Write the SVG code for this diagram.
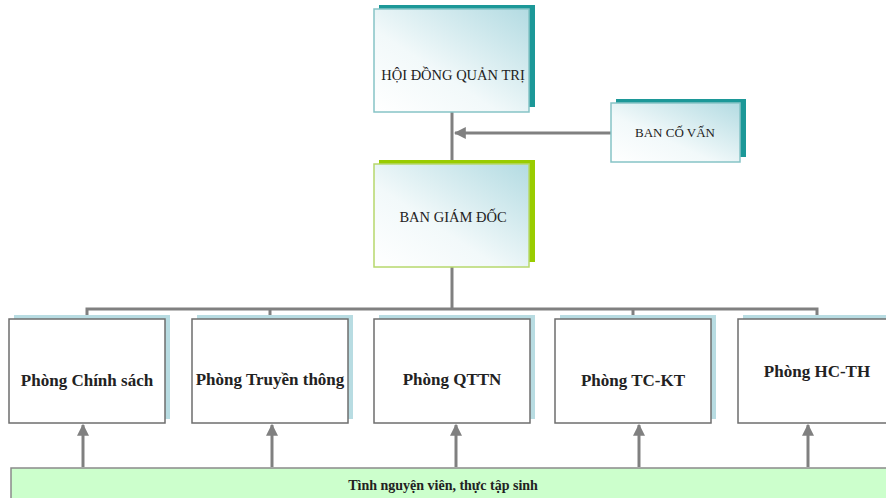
<svg xmlns="http://www.w3.org/2000/svg" width="886" height="498" viewBox="0 0 886 498">
<defs>
<linearGradient id="g" x1="0" y1="1" x2="1" y2="0">
<stop offset="0" stop-color="#ffffff"/>
<stop offset="0.4" stop-color="#f2f9fa"/>
<stop offset="1" stop-color="#b3dbe2"/>
</linearGradient>
<marker id="ah" viewBox="0 0 10 10" refX="9" refY="5" markerWidth="4" markerHeight="4" orient="auto">
<path d="M0,0 L10,5 L0,10 z" fill="#808080"/>
</marker>
</defs>
<style>
.top{fill:url(#g);stroke:#86c3c6;stroke-width:1.5}
.gtop{fill:url(#g);stroke:#b6d86c;stroke-width:1.5}
.sh{fill:#1c9898}
.gsh{fill:#99cc00}
.bsh{fill:#b8dce2}
.dept{fill:#ffffff;stroke:#6e6e6e;stroke-width:1.5}
.t1{font-family:"Liberation Serif",serif;font-size:14.5px;fill:#222;text-anchor:middle}
.t2{font-family:"Liberation Serif",serif;font-size:17px;font-weight:bold;fill:#222;text-anchor:middle}
.t3{font-family:"Liberation Serif",serif;font-size:14px;font-weight:bold;fill:#222;text-anchor:middle}
.ln{stroke:#808080;stroke-width:3;fill:none}
.ar{stroke:#808080;stroke-width:3;fill:none;marker-end:url(#ah)}
</style>
<g id="connectors">
<line class="ln" x1="452" y1="112" x2="452" y2="162"/>
<line class="ar" x1="611" y1="133" x2="455" y2="133"/>
<line class="ln" x1="452" y1="267" x2="452" y2="309"/>
<polyline class="ln" points="87,318 87,309 817,309 817,318"/>
<line class="ln" x1="270" y1="309" x2="270" y2="318"/>
<line class="ln" x1="633" y1="309" x2="633" y2="318"/>
<line class="ar" x1="83" y1="467" x2="83" y2="425"/>
<line class="ar" x1="272" y1="467" x2="272" y2="425"/>
<line class="ar" x1="456" y1="467" x2="456" y2="425"/>
<line class="ar" x1="639" y1="467" x2="639" y2="425"/>
<line class="ar" x1="808" y1="467" x2="808" y2="425"/>
</g>
<g id="hdqt">
<rect class="sh" x="379" y="5" width="156" height="102"/>
<rect class="top" x="374" y="9" width="155" height="103"/>
<text class="t1" x="453" y="80">HỘI ĐỒNG QUẢN TRỊ</text>
</g>
<g id="bancovan">
<rect class="sh" x="616" y="99" width="130" height="58"/>
<rect class="top" x="611" y="103" width="129" height="59"/>
<text class="t1" x="675" y="137" style="font-size:13px">BAN CỐ VẤN</text>
</g>
<g id="bgd">
<rect class="gsh" x="379" y="160" width="156" height="102"/>
<rect class="gtop" x="374" y="164" width="155" height="103"/>
<text class="t1" x="453" y="222">BAN GIÁM ĐỐC</text>
</g>
<g id="p1">
<rect class="bsh" x="14" y="315" width="156" height="104"/>
<rect class="dept" x="9" y="319" width="156" height="104"/>
<text class="t2" x="87" y="386">Phòng Chính sách</text>
</g>
<g id="p2">
<rect class="bsh" x="197" y="315" width="156" height="104"/>
<rect class="dept" x="192" y="319" width="156" height="104"/>
<text class="t2" x="270" y="385">Phòng Truyền thông</text>
</g>
<g id="p3">
<rect class="bsh" x="379" y="315" width="156" height="104"/>
<rect class="dept" x="374" y="319" width="156" height="104"/>
<text class="t2" x="452" y="385">Phòng QTTN</text>
</g>
<g id="p4">
<rect class="bsh" x="560" y="315" width="156" height="104"/>
<rect class="dept" x="555" y="319" width="156" height="104"/>
<text class="t2" x="633" y="386">Phòng TC-KT</text>
</g>
<g id="p5">
<rect class="bsh" x="743" y="315" width="156" height="104"/>
<rect class="dept" x="738" y="319" width="156" height="104"/>
<text class="t2" x="817" y="377">Phòng HC-TH</text>
</g>
<g id="tnv">
<rect x="11" y="468" width="890" height="40" fill="#ccffcc" stroke="#8a8a8a" stroke-width="1.5"/>
<text class="t3" x="443" y="490">Tình nguyện viên, thực tập sinh</text>
</g>
</svg>
